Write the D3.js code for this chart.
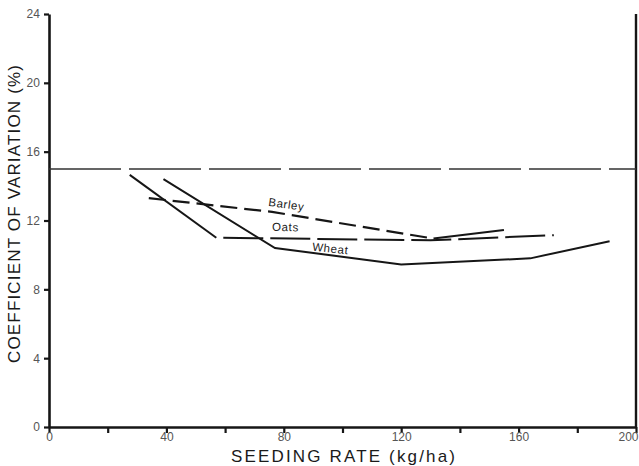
<!DOCTYPE html>
<html>
<head>
<meta charset="utf-8">
<script src="https://cdn.jsdelivr.net/npm/d3@7"></script>
<style>
  html, body { margin: 0; padding: 0; background: #fff; }
  svg { display: block; }
  text { font-family: "Liberation Sans", Arial, sans-serif; }
</style>
</head>
<body>
<svg id="chart" width="639" height="466"></svg>
<script>
// ---- data ----
const xTicks = [0, 20, 40, 60, 80, 100, 120, 140, 160, 180, 200];
const xLabelTicks = [0, 40, 80, 120, 160, 200];
const yTicks = [0, 4, 8, 12, 16, 20, 24];

const wheatRate = [39, 77, 120, 164, 191];
const wheatCV   = [14.4, 10.4, 9.45, 9.8, 10.8];

const oatsRate = [27.5, 57, 130, 172];
const oatsCV   = [14.65, 11.0, 10.85, 11.15];

const barleyRate = [34, 76, 131, 155];
const barleyCV   = [13.3, 12.5, 10.95, 11.45];

const referenceCV = 15;

const seriesLabels = [
  { name: "Barley", rate: 74.6, cv: 12.85, angle: 8 },
  { name: "Oats",   rate: 76,   cv: 11.4,  angle: 1 },
  { name: "Wheat",  rate: 89.6, cv: 10.25, angle: 6 }
];

// ---- layout ----
const W = 639, H = 466;
const margin = { left: 49, right: 3, top: 14, bottom: 39 };
const svg = d3.select("#chart");

const x = d3.scaleLinear().domain([0, 200]).range([margin.left, W - margin.right]);
const y = d3.scaleLinear().domain([0, 24]).range([H - margin.bottom, margin.top]);

const ink = "#161616";

// axes
const xAxis = d3.axisBottom(x).tickValues(xTicks).tickSize(6).tickSizeOuter(0)
  .tickFormat(d => xLabelTicks.includes(d) ? d : "");
const gx = svg.append("g").attr("transform", `translate(0,${y(0)})`).call(xAxis);
gx.select(".domain").attr("stroke", ink).attr("stroke-width", 2.6);
gx.selectAll(".tick line").attr("stroke", ink).attr("stroke-width", 2.2);
gx.selectAll(".tick text").attr("fill", "#555").attr("font-size", 12).attr("dy", "0.45em");
gx.selectAll(".tick text").filter(d => d === 200)
  .attr("text-anchor", "end").attr("dx", "2");

const yAxis = d3.axisLeft(y).tickValues(yTicks).tickSize(5).tickSizeOuter(0);
const gy = svg.append("g").attr("transform", `translate(${x(0)},0)`).call(yAxis);
gy.select(".domain").attr("stroke", ink).attr("stroke-width", 2.6);
gy.selectAll(".tick line").attr("stroke", ink).attr("stroke-width", 2.2);
gy.selectAll(".tick text").attr("fill", "#555").attr("font-size", 12).attr("dx", "-0.1em");

// right border
svg.append("line")
  .attr("x1", x(200)).attr("x2", x(200))
  .attr("y1", y(24)).attr("y2", y(0))
  .attr("stroke", ink).attr("stroke-width", 2.4);

// reference line
svg.append("line")
  .attr("x1", x(0)).attr("x2", x(200))
  .attr("y1", y(referenceCV)).attr("y2", y(referenceCV))
  .attr("stroke", "#333").attr("stroke-width", 1.5)
  .attr("stroke-dasharray", "72,8");

const line = d3.line().x(d => x(d[0])).y(d => y(d[1]));
const zip = (a, b) => a.map((v, i) => [v, b[i]]);

const wheat = zip(wheatRate, wheatCV);
const oats = zip(oatsRate, oatsCV);
const barley = zip(barleyRate, barleyCV);

// wheat solid
svg.append("path").datum(wheat).attr("d", line)
  .attr("fill", "none").attr("stroke", ink).attr("stroke-width", 2);

// oats: first segment solid, rest long dashed
svg.append("path").datum(oats.slice(0, 2)).attr("d", line)
  .attr("fill", "none").attr("stroke", ink).attr("stroke-width", 2);
svg.append("path").datum(oats.slice(1)).attr("d", line)
  .attr("fill", "none").attr("stroke", ink).attr("stroke-width", 2)
  .attr("stroke-dasharray", "40,7").attr("stroke-dashoffset", -7);

// barley: dashed, last segment solid
svg.append("path").datum(barley.slice(0, 3)).attr("d", line)
  .attr("fill", "none").attr("stroke", ink).attr("stroke-width", 2.2)
  .attr("stroke-dasharray", "17,7");
svg.append("path").datum(barley.slice(2)).attr("d", line)
  .attr("fill", "none").attr("stroke", ink).attr("stroke-width", 2);

// series labels
svg.selectAll("text.series").data(seriesLabels).enter().append("text")
  .attr("class", "series")
  .attr("transform", d => `translate(${x(d.rate)},${y(d.cv)}) rotate(${d.angle})`)
  .attr("text-anchor", "start")
  .attr("font-size", 11.5).attr("fill", "#222")
  .attr("letter-spacing", "0.6px")
  .text(d => d.name);

// axis titles
svg.append("text")
  .attr("x", 343).attr("y", 462)
  .attr("text-anchor", "middle")
  .attr("font-size", 17).attr("fill", "#1a1a1a")
  .attr("textLength", 224).attr("lengthAdjust", "spacing")
  .text("SEEDING RATE (kg/ha)");

svg.append("text")
  .attr("transform", "translate(20,214) rotate(-90)")
  .attr("text-anchor", "middle")
  .attr("font-size", 17).attr("fill", "#1a1a1a")
  .attr("textLength", 298).attr("lengthAdjust", "spacing")
  .text("COEFFICIENT OF VARIATION (%)");
</script>
</body>
</html>
